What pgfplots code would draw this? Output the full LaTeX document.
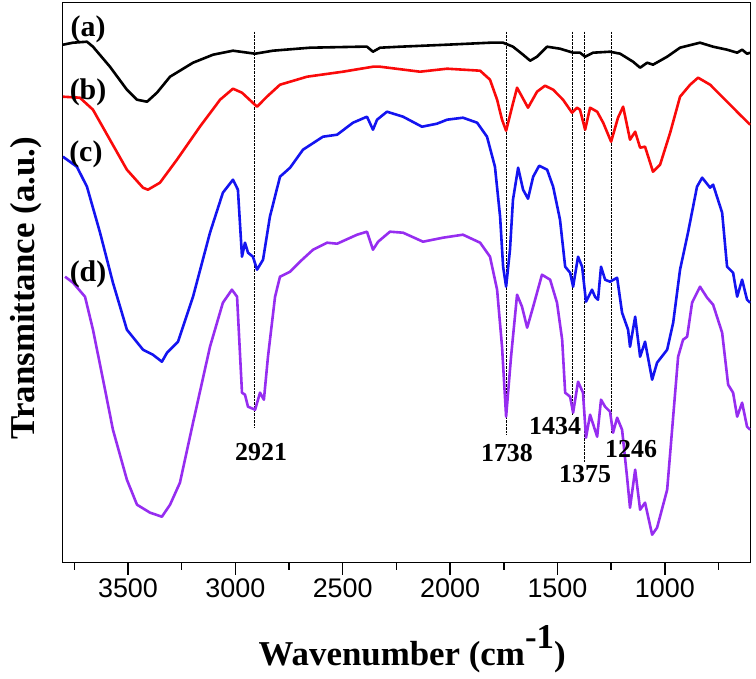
\documentclass[border=0pt]{standalone}
\usepackage{pgfplots}
\pgfplotsset{compat=1.18}
\usepackage{fontspec}
\setmainfont{Liberation Serif}
\newfontfamily\ticksfont{Liberation Sans}
\definecolor{cpurple}{RGB}{150,45,240}
\definecolor{cblue}{RGB}{20,20,240}
\definecolor{cred}{RGB}{250,10,10}
\begin{document}
\begin{tikzpicture}
\useasboundingbox (0,0) rectangle (756bp,679bp);
\begin{axis}[
  at={(62.7bp,116.3bp)}, anchor=south west,
  width=688bp, height=560bp, scale only axis,
  xmin=600, xmax=3804, ymin=0, ymax=560,
  x dir=reverse,
  axis line style={line width=1.5bp},
  xtick={1000,1500,2000,2500,3000,3500},
  minor xtick={750,1250,1750,2250,2750,3250,3750},
  ytick=\empty,
  xtick pos=bottom,
  tick align=outside,
  major tick length=12bp, minor tick length=7bp,
  every tick/.style={black, line width=1.5bp},
  xticklabel style={font=\fontsize{27}{30}\selectfont\ticksfont},
  /pgf/number format/assume math mode=true,
  /pgf/number format/set thousands separator={},
  xlabel={\bfseries Wavenumber (cm\raisebox{17bp}{-1})},
  xlabel style={at={(axis description cs:0.508,-0.1827)}, anchor=base, font=\fontsize{35}{38}\selectfont},
  ylabel={\bfseries Transmittance (a.u.)},
  ylabel style={at={(axis description cs:-0.0533,0.49)}, anchor=center, font=\fontsize{35}{38}\selectfont},
  every axis plot/.append style={line width=2.6bp, line join=round},
]
% dotted marker lines
\addplot[black, densely dotted, line width=1bp] coordinates {(2910,531) (2910,135)};
\addplot[black, densely dotted, line width=1bp] coordinates {(1739,531) (1739,128)};
\addplot[black, densely dotted, line width=1bp] coordinates {(1432,531) (1432,148)};
\addplot[black, densely dotted, line width=1bp] coordinates {(1372,531) (1372,100)};
\addplot[black, densely dotted, line width=1bp] coordinates {(1250,531) (1250,130)};
% (a) black
\addplot[black] coordinates {
(3803,518) (3756,520) (3691,521) (3663,516) (3584,496) (3505,473) (3458,463) (3411,461)
(3365,470) (3304,486) (3197,500) (3104,508) (3011,512) (2908,509) (2825,512) (2652,515)
(2419,516) (2387,516) (2359,511) (2326,515) (2233,516) (2014,518) (1814,520) (1753,520)
(1707,516) (1660,508) (1627,502) (1595,506) (1548,516) (1488,514) (1427,510) (1395,510)
(1371,506) (1334,510) (1255,511) (1208,509) (1148,501) (1115,495) (1082,500) (1055,498)
(989,506) (929,515) (836,520) (775,516) (710,513) (663,510) (640,513) (617,509) (603,510)
};
% (b) red
\addplot[cred] coordinates {
(3803,466) (3724,465) (3663,453) (3584,423) (3505,393) (3430,375) (3407,373) (3351,380)
(3272,403) (3165,436) (3071,463) (3011,474) (2969,470) (2899,456) (2853,466) (2792,478)
(2666,486) (2499,491) (2359,496) (2326,496) (2140,491) (2014,494) (1860,492) (1814,483)
(1781,463) (1758,443) (1739,432) (1711,456) (1688,475) (1665,466) (1637,455) (1595,471)
(1558,477) (1520,473) (1474,463) (1432,450) (1409,455) (1395,453) (1371,433) (1348,455)
(1315,451) (1287,440) (1250,421) (1218,445) (1194,456) (1162,423) (1138,431) (1115,415)
(1092,416) (1055,391) (1022,398) (975,430) (929,466) (882,478) (845,485) (789,478)
(710,461) (659,450) (603,438)
};
% (c) blue
\addplot[cblue] coordinates {
(3803,406) (3738,396) (3691,376) (3630,330) (3570,280) (3505,233) (3430,213) (3384,208)
(3342,201) (3318,210) (3267,221) (3197,266) (3118,330) (3058,370) (3011,383) (2988,373)
(2969,306) (2955,320) (2941,310) (2918,306) (2899,293) (2871,303) (2839,346) (2792,386)
(2745,395) (2685,413) (2592,426) (2526,428) (2452,440) (2387,446) (2359,433) (2340,443)
(2294,451) (2219,446) (2131,436) (2061,439) (2014,443) (1940,445) (1874,440) (1828,426)
(1791,396) (1767,346) (1753,296) (1739,276) (1721,313) (1707,363) (1683,395) (1660,373)
(1637,364) (1613,386) (1585,397) (1548,393) (1520,376) (1488,343) (1464,296) (1441,290)
(1427,276) (1404,306) (1385,296) (1367,261) (1339,273) (1325,266) (1311,263) (1297,296)
(1278,283) (1255,281) (1222,285) (1199,250) (1171,233) (1162,216) (1138,246) (1115,206)
(1092,221) (1059,183) (1036,200) (989,213) (961,240) (929,293) (892,330) (850,376)
(826,385) (789,375) (775,378) (733,350) (710,296) (682,290) (663,266) (640,283) (617,263)
(603,260)
};
% (d) purple
\addplot[cpurple] coordinates {
(3793,286) (3756,280) (3700,266) (3663,233) (3616,183) (3570,133) (3505,83) (3458,58)
(3397,50) (3342,46) (3304,58) (3258,80) (3197,140) (3118,216) (3058,260) (3016,273)
(2992,266) (2969,170) (2955,168) (2941,156) (2908,153) (2885,170) (2867,163) (2848,206)
(2815,266) (2792,286) (2745,291) (2699,301) (2638,313) (2573,320) (2526,319) (2433,328)
(2387,331) (2359,313) (2335,321) (2280,331) (2219,330) (2126,321) (2033,325) (1940,328)
(1860,320) (1814,306) (1781,273) (1758,216) (1739,146) (1716,206) (1688,268) (1665,256)
(1641,235) (1613,256) (1572,288) (1534,283) (1502,260) (1478,223) (1464,170) (1441,166)
(1427,150) (1404,181) (1381,170) (1367,125) (1348,148) (1315,126) (1297,163) (1278,156)
(1255,151) (1241,130) (1222,145) (1199,133) (1176,86) (1162,55) (1138,93) (1115,53)
(1092,60) (1059,28) (1036,35) (989,73) (966,133) (938,206) (915,223) (896,226) (873,260)
(836,276) (803,265) (775,258) (733,230) (705,178) (682,170) (663,146) (640,160) (617,136)
(603,133)
};
% labels
\node[font=\fontsize{30}{32}\selectfont\bfseries] at (axis cs:3686,533) {(a)};
\node[font=\fontsize{30}{32}\selectfont\bfseries] at (axis cs:3686,470) {(b)};
\node[font=\fontsize{30}{32}\selectfont\bfseries] at (axis cs:3696,408) {(c)};
\node[font=\fontsize{30}{32}\selectfont\bfseries] at (axis cs:3686,288) {(d)};
\node[font=\fontsize{26}{28}\selectfont\bfseries] at (axis cs:2880,111) {2921};
\node[font=\fontsize{26}{28}\selectfont\bfseries] at (axis cs:1735,110) {1738};
\node[font=\fontsize{26}{28}\selectfont\bfseries] at (axis cs:1511,137) {1434};
\node[font=\fontsize{26}{28}\selectfont\bfseries] at (axis cs:1371,89) {1375};
\node[font=\fontsize{26}{28}\selectfont\bfseries] at (axis cs:1157,114) {1246};
\end{axis}
\end{tikzpicture}
\end{document}
